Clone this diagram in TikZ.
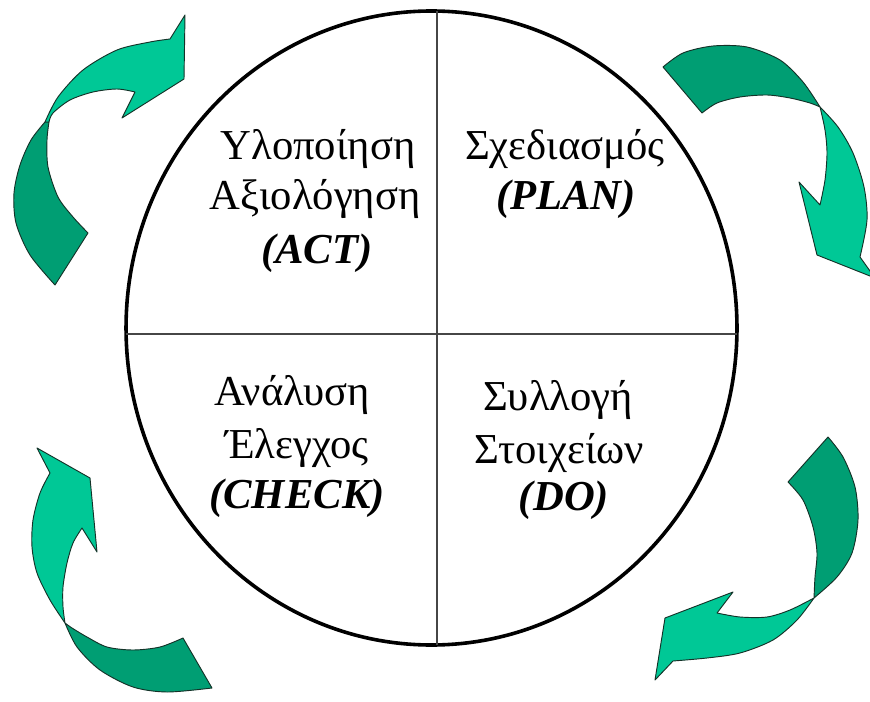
\documentclass[tikz,border=0pt]{standalone}
\usepackage{fontspec}
\setmainfont{Liberation Serif}
\begin{document}
\begin{tikzpicture}[x=0.75pt,y=-0.75pt,
  lightarr/.style={fill={rgb,255:red,0;green,200;blue,150},draw={rgb,255:red,20;green,50;blue,40},line width=0.7pt,line join=round},
  darkarr/.style={fill={rgb,255:red,0;green,158;blue,115},draw={rgb,255:red,20;green,50;blue,40},line width=0.7pt,line join=round},
  divider/.style={draw={rgb,255:red,70;green,70;blue,70},line width=1.1pt},
  lbl/.style={anchor=base,inner sep=0pt,font=\fontsize{32}{38}\selectfont},
  lblb/.style={anchor=base,inner sep=0pt,font=\fontsize{32}{38}\selectfont\bfseries\itshape}]
\useasboundingbox (0,0) rectangle (870,702);
% circle and dividers
\draw[line width=2.7pt] (431.5,328) ellipse [x radius=229.1pt, y radius=237.75pt];
\coordinate (vt) at (437,11);
\coordinate (vb) at (437,645);
\coordinate (hl) at (126,334);
\coordinate (hr) at (737,334);
\draw[divider] (vt) -- (vb);
\draw[divider] (hl) -- (hr);
% top-left arrow
\filldraw[darkarr] plot[smooth] coordinates {(45,122) (31,140) (20,165) (14,193) (16,223) (30,255) (55,285)} -- (88,233)
  -- plot[smooth] coordinates {(88,233) (73,217) (58,197) (48,167) (47,140) (49,122)} -- cycle;
\filldraw[lightarr] plot[smooth] coordinates {(45,122) (58,97) (83,70) (117,50) (150,42) (170,39)} -- (185,15) -- (184,79) -- (122,118) -- (135,92)
  -- plot[smooth] coordinates {(135,92) (117,89) (93,92) (70,100) (53,113) (49,122)} -- cycle;
% top-right arrow
\filldraw[darkarr] plot[smooth] coordinates {(663,67) (683,53) (713,46) (747,47) (780,60) (803,82) (820,107)}
  -- plot[smooth] coordinates {(820,107) (810,103) (790,98) (767,95) (740,97) (717,103) (702,113)} -- cycle;
\filldraw[lightarr] plot[smooth] coordinates {(820,107) (838,127) (853,153) (864,187) (867,220) (860,257)} -- (875,278) -- (817,255) -- (799,182) -- (820,205)
  -- plot[smooth] coordinates {(820,205) (825,180) (827,153) (825,130) (820,107)} -- cycle;
% bottom-right arrow
\filldraw[darkarr] plot[smooth] coordinates {(828,437) (843,457) (855,487) (858,520) (852,553) (837,577) (814,598)}
  -- plot[smooth] coordinates {(814,598) (815,577) (817,553) (813,527) (803,500) (788,482)} -- cycle;
\filldraw[lightarr] plot[smooth] coordinates {(814,598) (797,620) (773,640) (740,653) (707,658) (673,661)} -- (655,680) -- (665,618) -- (733,592) -- (717,613)
  -- plot[smooth] coordinates {(717,613) (740,617) (767,617) (790,610) (814,598)} -- cycle;
% bottom-left arrow
\filldraw[darkarr] plot[smooth] coordinates {(65,623) (77,647) (100,670) (133,687) (167,692) (212,688)} -- (183,638)
  -- plot[smooth] coordinates {(183,638) (160,647) (133,650) (107,647) (87,637) (72,628) (65,623)} -- cycle;
\filldraw[lightarr] plot[smooth] coordinates {(65,623) (50,600) (37,573) (32,547) (33,520) (40,493) (50,473)} -- (37,448) -- (90,478) -- (97,552) -- (82,528)
  -- plot[smooth] coordinates {(82,528) (73,543) (67,563) (63,587) (63,607) (65,623)} -- cycle;
% labels
\node[lbl]  (act1) at (318,160) {Υλοποίηση};
\node[lbl]  (act2) at (315,210) {Αξιολόγηση};
\node[lblb] (act3) at (317,263) {(ACT)};
\node[lbl]  (plan1) at (565,160) {Σχεδιασμός};
\node[lblb] (plan2) at (566,210) {(PLAN)};
\node[lbl]  (chk1) at (292,405) {Ανάλυση};
\node[lbl]  (chk2) at (297,458) {Έλεγχος};
\node[lblb] (chk3) at (297,508) {(CHECK)};
\node[lbl]  (do1) at (558,410) {Συλλογή};
\node[lbl]  (do2) at (559,463) {Στοιχείων};
\node[lblb] (do3) at (564,510) {(DO)};
\end{tikzpicture}
\end{document}
